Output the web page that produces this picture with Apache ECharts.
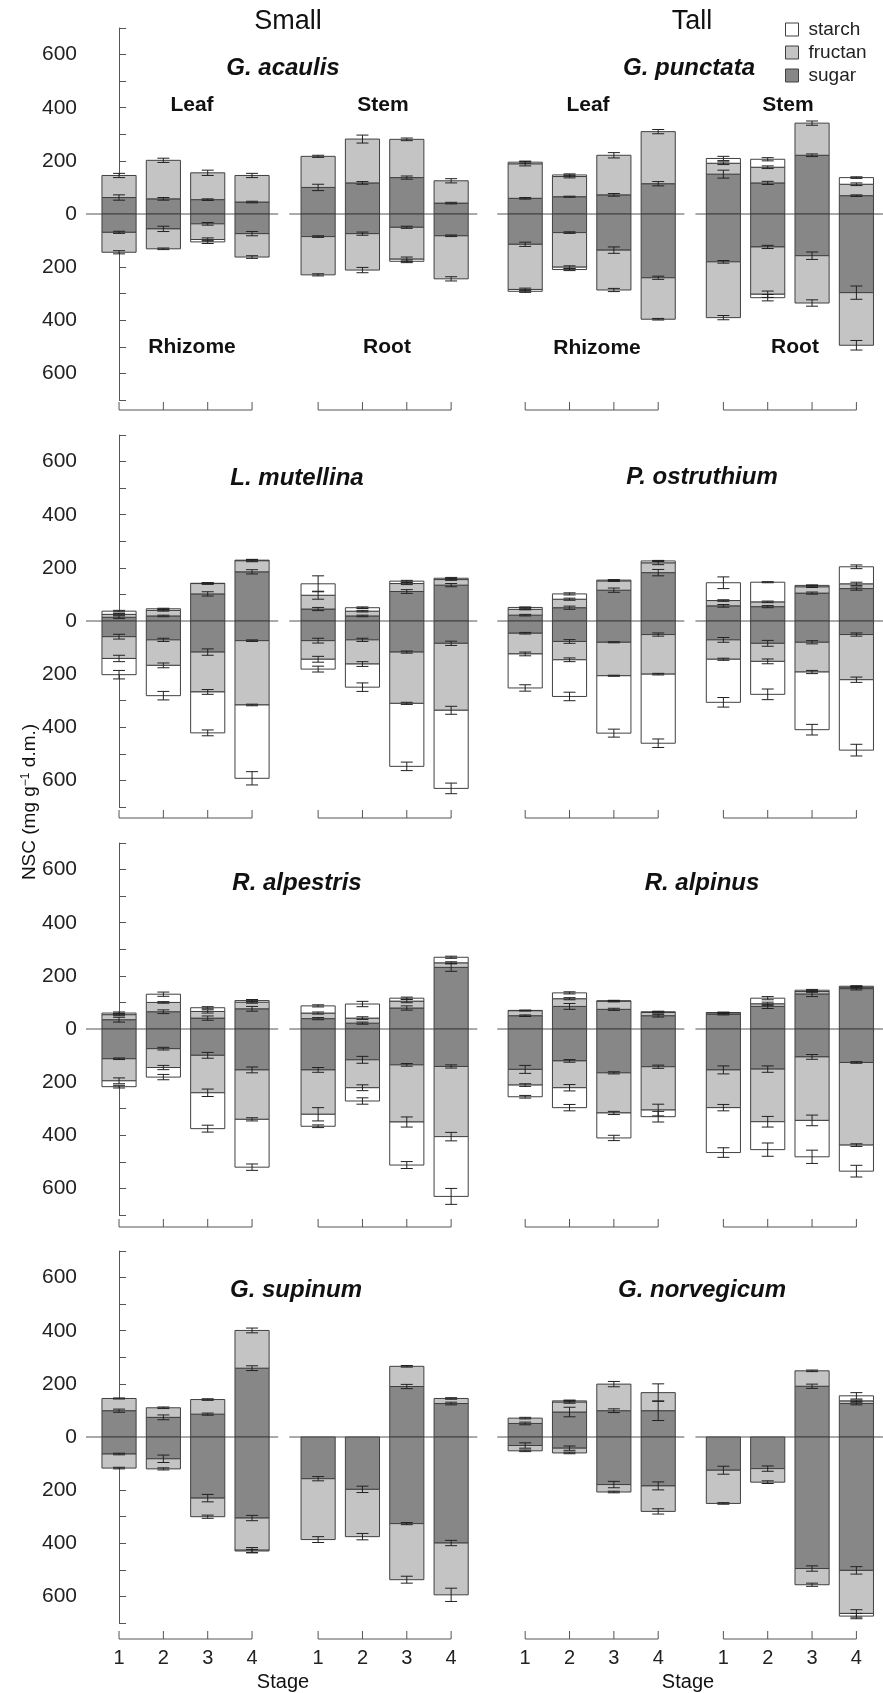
<!DOCTYPE html>
<html>
<head>
<meta charset="utf-8">
<script src="https://cdn.jsdelivr.net/npm/echarts@6/dist/echarts.min.js"></script>
<style>
  html, body { margin: 0; padding: 0; background: #fff; }
  #main { width: 883px; height: 1693px; }
</style>
</head>
<body>
<div id="main"></div>
<script>
// species: two per panel row (left = small, right = tall)
var species = ['G. acaulis', 'G. punctata', 'L. mutellina', 'P. ostruthium',
               'R. alpestris', 'R. alpinus', 'G. supinum', 'G. norvegicum'];
var stages = ['1', '2', '3', '4'];
var organsUp = ['Leaf', 'Stem'];
var organsDown = ['Rhizome', 'Root'];

// above ground: Leaf stage 1-4, Stem stage 1-4 (mg g-1 d.m.)
var sugarUp = [
  [62, 57, 54, 45, 100, 117, 137, 41],
  [59, 65, 72, 114, 150, 117, 221, 69],
  [14, 19, 102, 185, 45, 19, 111, 135],
  [22, 50, 116, 182, 57, 54, 105, 122],
  [35, 65, 41, 76, 39, 22, 79, 232],
  [50, 85, 74, 50, 56, 85, 132, 152],
  [99, 74, 86, 259, 0, 0, 190, 126],
  [51, 94, 99, 99, 0, 0, 191, 126]
];
var fructanUp = [
  [83, 145, 101, 100, 117, 165, 144, 84],
  [130, 76, 149, 196, 41, 59, 121, 43],
  [11, 21, 39, 42, 52, 18, 30, 21],
  [22, 32, 35, 37, 20, 18, 24, 18],
  [19, 35, 25, 25, 21, 19, 26, 17],
  [19, 29, 31, 12, 5, 10, 9, 5],
  [46, 36, 55, 142, 0, 0, 76, 19],
  [20, 38, 100, 68, 0, 0, 58, 10]
];
var starchUp = [
  [0, 0, 0, 0, 0, 0, 0, 0],
  [6, 6, 0, 0, 18, 30, 0, 25],
  [12, 6, 1, 2, 43, 13, 9, 5],
  [7, 20, 3, 7, 67, 74, 5, 64],
  [6, 31, 14, 6, 27, 53, 11, 21],
  [1, 22, 1, 3, 1, 21, 5, 4],
  [0, 0, 0, 0, 0, 0, 0, 0],
  [0, 4, 0, 0, 0, 0, 0, 19]
];

// below ground: Rhizome stage 1-4, Root stage 1-4
var sugarDown = [
  [69, 56, 37, 74, 85, 74, 50, 82],
  [114, 70, 136, 240, 180, 124, 157, 296],
  [59, 71, 117, 74, 74, 71, 117, 84],
  [46, 77, 80, 51, 71, 84, 80, 51],
  [112, 74, 99, 154, 154, 116, 135, 141],
  [152, 120, 165, 142, 154, 151, 105, 126],
  [64, 82, 230, 305, 157, 197, 326, 399],
  [32, 42, 179, 184, 125, 119, 495, 502]
];
var fructanDown = [
  [75, 75, 59, 88, 144, 137, 120, 162],
  [170, 130, 150, 156, 210, 178, 178, 198],
  [82, 96, 150, 242, 70, 91, 193, 252],
  [78, 69, 126, 149, 73, 68, 112, 170],
  [83, 71, 141, 186, 167, 105, 215, 264],
  [59, 101, 151, 163, 142, 198, 239, 311],
  [53, 38, 70, 121, 229, 178, 211, 195],
  [20, 18, 28, 96, 125, 51, 61, 162]
];
var starchDown = [
  [0, 0, 9, 0, 0, 0, 8, 0],
  [7, 9, 0, 0, 0, 13, 0, 0],
  [61, 114, 154, 276, 37, 87, 237, 294],
  [128, 138, 216, 260, 162, 124, 217, 265],
  [22, 36, 135, 180, 45, 50, 162, 225],
  [44, 75, 94, 25, 169, 105, 137, 98],
  [0, 0, 0, 3, 0, 0, 0, 0],
  [0, 0, 0, 0, 0, 0, 0, 10]
];

// standard errors
var sugarUpSE = [
  [10, 5, 3, 3, 12, 5, 6, 3],
  [3, 2, 5, 8, 15, 6, 5, 3],
  [5, 3, 8, 8, 6, 3, 7, 6],
  [3, 6, 8, 12, 5, 4, 4, 6],
  [9, 7, 8, 9, 4, 4, 8, 15],
  [3, 11, 4, 5, 3, 8, 10, 5],
  [6, 9, 4, 9, 0, 0, 8, 5],
  [5, 18, 7, 37, 0, 0, 8, 5]
];
var fructanUpSE = [
  [8, 8, 10, 8, 4, 15, 5, 8],
  [8, 5, 10, 8, 5, 5, 8, 5],
  [3, 3, 3, 4, 15, 3, 4, 3],
  [2, 4, 2, 7, 3, 3, 3, 6],
  [4, 3, 6, 4, 4, 5, 6, 4],
  [1, 4, 3, 2, 2, 6, 3, 3],
  [2, 3, 3, 9, 0, 0, 3, 3],
  [3, 5, 10, 33, 0, 0, 3, 3]
];
var starchUpSE = [
  [0, 0, 0, 0, 0, 0, 0, 0],
  [4, 4, 0, 0, 8, 6, 0, 3],
  [3, 2, 2, 3, 30, 3, 3, 3],
  [2, 4, 2, 2, 22, 2, 2, 7],
  [4, 8, 4, 4, 4, 10, 4, 4],
  [1, 4, 1, 2, 1, 6, 3, 2],
  [0, 0, 0, 0, 0, 0, 0, 0],
  [0, 3, 0, 0, 0, 0, 0, 12]
];
var sugarDownSE = [
  [4, 10, 5, 8, 3, 6, 4, 3],
  [8, 3, 12, 6, 5, 6, 14, 25],
  [9, 6, 12, 3, 9, 6, 4, 8],
  [3, 7, 2, 6, 9, 11, 6, 6],
  [3, 5, 11, 11, 9, 13, 5, 6],
  [15, 5, 4, 6, 15, 12, 9, 3],
  [3, 14, 14, 10, 8, 12, 4, 10],
  [10, 8, 12, 15, 15, 10, 10, 14]
];
var fructanDownSE = [
  [6, 3, 6, 5, 4, 10, 8, 8],
  [5, 5, 6, 3, 8, 12, 12, 18],
  [12, 9, 9, 3, 11, 9, 4, 15],
  [7, 7, 2, 3, 4, 9, 6, 10],
  [11, 8, 14, 6, 25, 11, 19, 16],
  [5, 12, 6, 22, 12, 20, 20, 5],
  [3, 4, 6, 10, 11, 12, 13, 25],
  [3, 3, 3, 10, 3, 5, 6, 14]
];
var starchDownSE = [
  [0, 0, 6, 0, 0, 0, 5, 0],
  [4, 4, 0, 0, 0, 12, 0, 0],
  [16, 16, 11, 25, 11, 16, 16, 20],
  [12, 16, 15, 16, 18, 20, 20, 22],
  [5, 10, 13, 12, 5, 12, 13, 30],
  [5, 12, 10, 20, 18, 25, 25, 22],
  [0, 0, 0, 6, 0, 0, 0, 0],
  [0, 0, 0, 0, 0, 0, 0, 10]
];

(function () {
    var myChart = echarts.init(document.getElementById('main'));

    var FONT = '"Liberation Sans", Arial, Helvetica, sans-serif';
    var colors = { sugar: '#878787', fructan: '#c4c4c4', starch: '#ffffff' };
    var groupStart = [0, 4.49, 9.16, 13.63];        // x slot of stage 1 in each group
    var zeroSpan = [[-0.745, 3.59], [3.84, 8.08], [8.53, 12.75], [13.0, 17.23]];
    var barHalf = 0.385;
    var panelTop = [28, 435, 843, 1251];
    var panelH = 372;
    var bracketOff = [10, 11, 12, 16];

    var grids = [], xAxes = [], yAxes = [], series = [];

    var rectRender = function (color) {
        return function (params, api) {
            var x = api.value(0), a = api.value(1), b = api.value(2);
            if (a === b) return null;
            var p0 = api.coord([x - barHalf, Math.max(a, b)]);
            var p1 = api.coord([x + barHalf, Math.min(a, b)]);
            return {
                type: 'rect',
                shape: { x: p0[0], y: p0[1], width: p1[0] - p0[0], height: p1[1] - p0[1] },
                style: { fill: color, stroke: '#404040', lineWidth: 1 }
            };
        };
    };

    var errRender = function (params, api) {
        var x = api.value(0), c = api.value(1), se = api.value(2);
        var top = api.coord([x, c + se]), bot = api.coord([x, c - se]);
        var cap = 6;
        var st = { stroke: '#222', lineWidth: 1 };
        return {
            type: 'group',
            children: [
                { type: 'line', shape: { x1: top[0], y1: top[1], x2: bot[0], y2: bot[1] }, style: st },
                { type: 'line', shape: { x1: top[0] - cap, y1: top[1], x2: top[0] + cap, y2: top[1] }, style: st },
                { type: 'line', shape: { x1: bot[0] - cap, y1: bot[1], x2: bot[0] + cap, y2: bot[1] }, style: st }
            ]
        };
    };

    for (var p = 0; p < 4; p++) {
        grids.push({ left: 86, width: 797, top: panelTop[p], height: panelH });
        xAxes.push({ type: 'value', gridIndex: p, min: -0.745, max: 17.23, show: false });
        yAxes.push({
            type: 'value', gridIndex: p, min: -700, max: 700, interval: 100,
            axisLine: { show: true, lineStyle: { color: '#555', width: 1 } },
            axisTick: { show: true, inside: true, length: 7, lineStyle: { color: '#555' } },
            splitLine: { show: false },
            axisLabel: {
                interval: 0, margin: 9, color: '#222', fontSize: 21, fontFamily: FONT,
                formatter: function (v) { return v % 200 === 0 ? String(Math.abs(v)) : ''; }
            }
        });

        var sugarData = [], fructanData = [], starchData = [], errData = [];
        for (var side = 0; side < 2; side++) {
            var s = p * 2 + side;
            for (var j = 0; j < 2; j++) {
                for (var k = 0; k < 4; k++) {
                    var i = j * 4 + k;
                    var x = groupStart[side * 2 + j] + k;
                    // upward stack
                    var a = sugarUp[s][i], b = a + fructanUp[s][i], c = b + starchUp[s][i];
                    sugarData.push([x, 0, a]);
                    fructanData.push([x, a, b]);
                    starchData.push([x, b, c]);
                    if (sugarUp[s][i] > 0) errData.push([x, a, sugarUpSE[s][i]]);
                    if (fructanUp[s][i] > 0) errData.push([x, b, fructanUpSE[s][i]]);
                    if (starchUp[s][i] > 0) errData.push([x, c, starchUpSE[s][i]]);
                    // downward stack
                    var d = -sugarDown[s][i], e = d - fructanDown[s][i], f = e - starchDown[s][i];
                    sugarData.push([x, 0, d]);
                    fructanData.push([x, d, e]);
                    starchData.push([x, e, f]);
                    if (sugarDown[s][i] > 0) errData.push([x, d, sugarDownSE[s][i]]);
                    if (fructanDown[s][i] > 0) errData.push([x, e, fructanDownSE[s][i]]);
                    if (starchDown[s][i] > 0) errData.push([x, f, starchDownSE[s][i]]);
                }
            }
        }

        series.push({
            name: 'sugar', type: 'custom', xAxisIndex: p, yAxisIndex: p,
            itemStyle: { color: colors.sugar, borderColor: '#404040', borderWidth: 1 },
            renderItem: rectRender(colors.sugar), data: sugarData
        });
        series.push({
            name: 'fructan', type: 'custom', xAxisIndex: p, yAxisIndex: p,
            itemStyle: { color: colors.fructan, borderColor: '#404040', borderWidth: 1 },
            renderItem: rectRender(colors.fructan), data: fructanData
        });
        series.push({
            name: 'starch', type: 'custom', xAxisIndex: p, yAxisIndex: p,
            itemStyle: { color: colors.starch, borderColor: '#404040', borderWidth: 1 },
            renderItem: rectRender(colors.starch), data: starchData
        });
        // zero line per group
        series.push({
            type: 'custom', xAxisIndex: p, yAxisIndex: p, silent: true, z: 1,
            renderItem: function (params, api) {
                var a = api.coord([api.value(0), 0]), b = api.coord([api.value(1), 0]);
                return { type: 'line', shape: { x1: a[0], y1: a[1], x2: b[0], y2: b[1] },
                         style: { stroke: '#555', lineWidth: 1 } };
            },
            data: zeroSpan
        });
        // error bars
        series.push({
            type: 'custom', xAxisIndex: p, yAxisIndex: p, silent: true, z: 5,
            renderItem: errRender, data: errData
        });
        // stage brackets under each group
        (function (pp) {
            series.push({
                type: 'custom', xAxisIndex: pp, yAxisIndex: pp, silent: true, clip: false,
                renderItem: function (params, api) {
                    var g = api.value(0);
                    var first = api.coord([g, -700]), last = api.coord([g + 3, -700]);
                    var yLine = first[1] + bracketOff[pp];
                    var kids = [{ type: 'line', shape: { x1: first[0], y1: yLine, x2: last[0], y2: yLine },
                                  style: { stroke: '#555', lineWidth: 1 } }];
                    for (var k = 0; k < 4; k++) {
                        var c = api.coord([g + k, -700]);
                        kids.push({ type: 'line', shape: { x1: c[0], y1: yLine - 8, x2: c[0], y2: yLine },
                                    style: { stroke: '#555', lineWidth: 1 } });
                        if (pp === 3) {
                            kids.push({ type: 'text', x: c[0], y: yLine + 19,
                                        style: { text: stages[k], fill: '#222', fontSize: 20, fontFamily: FONT,
                                                 align: 'center', verticalAlign: 'middle',
                                                 textAlign: 'center', textVerticalAlign: 'middle' } });
                        }
                    }
                    return { type: 'group', children: kids };
                },
                data: groupStart.map(function (g) { return [g]; })
            });
        })(p);
    }

    var txt = function (x, y, text, size, weight, style) {
        return {
            type: 'text', x: x, y: y, silent: true,
            style: {
                text: text, fill: '#111', fontSize: size, fontWeight: weight || 'normal',
                fontStyle: style || 'normal', fontFamily: FONT,
                align: 'center', verticalAlign: 'middle', textAlign: 'center', textVerticalAlign: 'middle'
            }
        };
    };

    var speciesPos = [[283, 68], [689, 68], [297, 478], [702, 477],
                      [297, 883], [702, 883], [296, 1290], [702, 1290]];
    var graphics = [
        txt(288, 22, 'Small', 27),
        txt(692, 22, 'Tall', 27),
        txt(192, 105, organsUp[0], 21, 'bold'),
        txt(383, 105, organsUp[1], 21, 'bold'),
        txt(192, 347, organsDown[0], 21, 'bold'),
        txt(387, 347, organsDown[1], 21, 'bold'),
        txt(588, 105, organsUp[0], 21, 'bold'),
        txt(788, 105, organsUp[1], 21, 'bold'),
        txt(597, 348, organsDown[0], 21, 'bold'),
        txt(795, 347, organsDown[1], 21, 'bold'),
        txt(283, 1682, 'Stage', 20),
        txt(688, 1682, 'Stage', 20),
        {
            type: 'text', x: 30, y: 802, rotation: Math.PI / 2, silent: true,
            style: {
                text: 'NSC (mg g{sup|\u22121} d.m.)', fill: '#111', fontSize: 19, fontFamily: FONT,
                align: 'center', verticalAlign: 'middle', textAlign: 'center', textVerticalAlign: 'middle',
                rich: { sup: { fontSize: 12, fontFamily: FONT, fill: '#111', padding: [0, 0, 9, 0] } }
            }
        }
    ];
    species.forEach(function (name, s) {
        graphics.push(txt(speciesPos[s][0], speciesPos[s][1], name, 24, 'bold', 'italic'));
    });

    myChart.setOption({
        animation: false,
        backgroundColor: '#fff',
        legend: {
            orient: 'vertical', left: 780, top: 15, itemWidth: 13, itemHeight: 13, itemGap: 4,
            icon: 'rect', selectedMode: false,
            textStyle: { fontSize: 19, color: '#222', fontFamily: FONT, padding: [0, 0, 0, 5] },
            data: [
                { name: 'starch', itemStyle: { color: colors.starch, borderColor: '#404040', borderWidth: 1 } },
                { name: 'fructan', itemStyle: { color: colors.fructan, borderColor: '#404040', borderWidth: 1 } },
                { name: 'sugar', itemStyle: { color: colors.sugar, borderColor: '#404040', borderWidth: 1 } }
            ]
        },
        grid: grids,
        xAxis: xAxes,
        yAxis: yAxes,
        graphic: graphics,
        series: series
    });
    window.addEventListener('resize', function () {
        myChart.resize();
    });
})();
</script>
</body>
</html>
